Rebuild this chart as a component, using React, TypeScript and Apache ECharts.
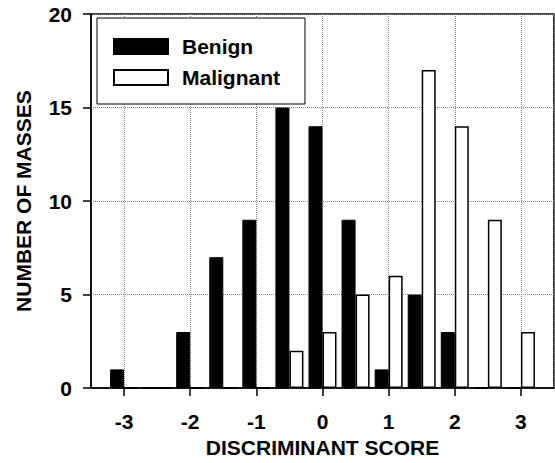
import React, { useEffect, useRef } from "react";
import * as echarts from "echarts";

const scores = [-3, -2.5, -2, -1.5, -1, -0.5, 0, 0.5, 1, 1.5, 2, 2.5, 3];
const benign = [1, 0, 3, 7, 9, 15, 14, 9, 1, 5, 3, 0, 0];
const malignant = [0, 0, 0, 0, 0, 2, 3, 5, 6, 17, 14, 9, 3];
const seriesNames = ["Benign", "Malignant"];
const xTitle = "DISCRIMINANT SCORE";
const yTitle = "NUMBER OF MASSES";

const FONT = "'Liberation Sans', Arial, Helvetica, sans-serif";

export default function App() {
  const ref = useRef<HTMLDivElement>(null);
  useEffect(() => {
    if (!ref.current) return;
    const chart = echarts.init(ref.current, null, { renderer: "svg" });
    const dotted = { show: true, lineStyle: { type: "dotted" as const, color: "#888", width: 1 } };
    chart.setOption({
      animation: false,
      backgroundColor: "#fff",
      textStyle: { fontFamily: FONT },
      grid: {
        left: 91,
        right: 1,
        top: 14,
        bottom: 74,
        show: true,
        borderColor: "#000",
        borderWidth: 1.5,
        backgroundColor: "transparent",
      },
      legend: {
        orient: "vertical",
        left: 97,
        top: 18,
        padding: [18, 25, 16, 16],
        itemGap: 10,
        itemWidth: 54,
        itemHeight: 15,
        backgroundColor: "#fff",
        borderColor: "#000",
        borderWidth: 1,
        borderRadius: 0,
        icon: "rect",
        data: seriesNames,
        textStyle: {
          fontFamily: FONT,
          fontWeight: "bold",
          fontSize: 21,
          lineHeight: 20,
          color: "#000",
          padding: [0, 0, 0, 9],
        },
      },
      xAxis: {
        type: "value",
        min: -3.5,
        max: 3.5,
        splitNumber: 7,
        name: xTitle,
        nameLocation: "middle",
        nameGap: 42,
        nameTextStyle: { fontFamily: FONT, fontWeight: "bold", fontSize: 21, color: "#000" },
        axisLine: { show: true, onZero: false, lineStyle: { color: "#000", width: 1.5 } },
        axisTick: { show: true, length: 8, lineStyle: { color: "#000", width: 1.5 } },
        axisLabel: {
          showMinLabel: false,
          showMaxLabel: false,
          margin: 23,
          fontFamily: FONT,
          fontWeight: "bold",
          fontSize: 21,
          color: "#000",
        },
        splitLine: dotted,
      },
      yAxis: {
        type: "value",
        min: 0,
        max: 20,
        interval: 5,
        name: yTitle,
        nameLocation: "middle",
        nameGap: 57,
        nameTextStyle: { fontFamily: FONT, fontWeight: "bold", fontSize: 21, color: "#000" },
        axisLine: { show: true, onZero: false, lineStyle: { color: "#000", width: 1.5 } },
        axisTick: { show: true, length: 8, lineStyle: { color: "#000", width: 1.5 } },
        axisLabel: { margin: 19, fontFamily: FONT, fontWeight: "bold", fontSize: 21, color: "#000" },
        splitLine: dotted,
      },
      series: [
        {
          name: seriesNames[0],
          type: "bar",
          barWidth: 14,
          barGap: "0%",
          data: scores.map((s, i) => [s, benign[i]]),
          itemStyle: { color: "#000", borderColor: "#000", borderWidth: 1 },
        },
        {
          name: seriesNames[1],
          type: "bar",
          barWidth: 14,
          barGap: "0%",
          data: scores.map((s, i) => [s, malignant[i]]),
          itemStyle: { color: "#fff", borderColor: "#000", borderWidth: 1.5 },
        },
      ],
    });
    return () => chart.dispose();
  }, []);
  return (
    <div
      ref={ref}
      style={{ position: "fixed", left: 0, top: 0, width: 555, height: 463, background: "#fff" }}
    />
  );
}
